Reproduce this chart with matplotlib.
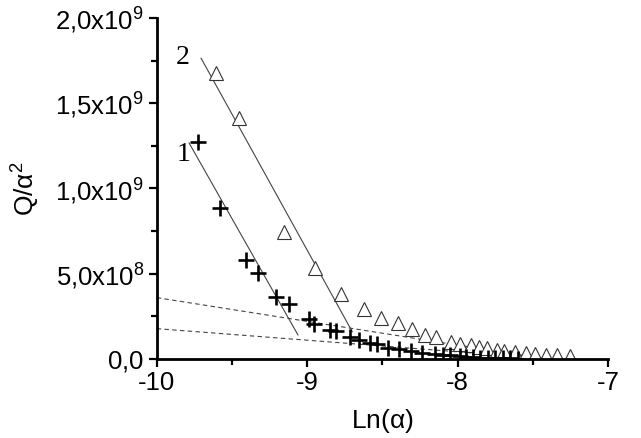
import numpy as np
import matplotlib
matplotlib.use('Agg')
import matplotlib.pyplot as plt
from matplotlib.ticker import FixedLocator, FixedFormatter

plt.rcParams['font.family'] = ['Liberation Sans', 'DejaVu Sans']
plt.rcParams['mathtext.fontset'] = 'custom'
plt.rcParams['mathtext.rm'] = 'Liberation Sans'
plt.rcParams['mathtext.it'] = 'Liberation Sans:italic'

# Série 1 (croix)
x1 = [-9.726, -9.579, -9.407, -9.327, -9.205, -9.118, -8.990, -8.955, -8.850, -8.806,
      -8.718, -8.658, -8.585, -8.534, -8.463, -8.390, -8.308, -8.235, -8.150, -8.100,
      -8.053, -7.987, -7.944, -7.900, -7.850, -7.800, -7.750, -7.700, -7.650, -7.600]
y1 = [1.273e9, 0.886e9, 0.579e9, 0.504e9, 0.365e9, 0.321e9, 0.236e9, 0.207e9, 0.168e9, 0.164e9,
      0.131e9, 0.111e9, 0.096e9, 0.086e9, 0.066e9, 0.057e9, 0.047e9, 0.037e9, 0.027e9, 0.025e9,
      0.023e9, 0.018e9, 0.012e9, 0.010e9, 0.008e9, 0.006e9, 0.005e9, 0.004e9, 0.003e9, 0.002e9]

# Série 2 (triangles)
x2 = [-9.608, -9.453, -9.154, -8.950, -8.773, -8.625, -8.512, -8.397, -8.304, -8.215,
      -8.146, -8.042, -7.982, -7.909, -7.860, -7.805, -7.739, -7.688, -7.615, -7.544,
      -7.482, -7.415, -7.340, -7.251]
y2 = [1.677e9, 1.415e9, 0.745e9, 0.536e9, 0.379e9, 0.291e9, 0.242e9, 0.209e9, 0.174e9, 0.141e9,
      0.129e9, 0.102e9, 0.090e9, 0.082e9, 0.070e9, 0.063e9, 0.051e9, 0.047e9, 0.043e9, 0.037e9,
      0.031e9, 0.023e9, 0.023e9, 0.018e9]

# Droites d'ajustement (extrémités)
fit1_x = [-9.785, -9.061]
fit1_y = [1.267e9, 0.141e9]
fit2_x = [-9.705, -8.700]
fit2_y = [1.764e9, 0.160e9]

# Tangentes en pointillés
dash_hi_x = [-10.0, -7.45]
dash_hi_y = [0.360e9, 0.005e9]
dash_lo_x = [-10.0, -7.45]
dash_lo_y = [0.178e9, 0.005e9]

yticks = [0, 5e8, 1e9, 1.5e9, 2e9]
ytick_labels = [r'$\mathregular{0{,}0}$', r'$\mathregular{5{,}0x10^{8}}$', r'$\mathregular{1{,}0x10^{9}}$',
                r'$\mathregular{1{,}5x10^{9}}$', r'$\mathregular{2{,}0x10^{9}}$']
xticks = [-10, -9, -8, -7]
xtick_labels = ['-10', '-9', '-8', '-7']

fig = plt.figure(figsize=(6.41, 4.38), dpi=100)
ax = fig.add_axes([0.2445, 0.1804, 0.704, 0.7785])

ax.plot(dash_hi_x, dash_hi_y, color='#444444', lw=0.8, dashes=(4, 3))
ax.plot(dash_lo_x, dash_lo_y, color='#444444', lw=0.8, dashes=(4, 3))
ax.plot(fit1_x, fit1_y, color='#444444', lw=0.8)
ax.plot(fit2_x, fit2_y, color='#444444', lw=0.8)

ax.plot(x2, y2, linestyle='none', marker='^', markersize=10.5, markerfacecolor='white',
        markeredgecolor='#333333', markeredgewidth=0.8)
ax.plot(x1, y1, linestyle='none', marker='+', markersize=11, color='black', markeredgewidth=1.9)

ax.text(-9.82, 1.20e9, '1', family=['Liberation Serif'], fontsize=20, ha='center', va='center')
ax.text(-9.825, 1.77e9, '2', family=['Liberation Serif'], fontsize=20, ha='center', va='center')

ax.set_xlim(-10, -7)
ax.set_ylim(0, 2e9)

ax.xaxis.set_major_locator(FixedLocator(xticks))
ax.xaxis.set_major_formatter(FixedFormatter(xtick_labels))
ax.xaxis.set_minor_locator(FixedLocator([-9.5, -8.5, -7.5]))
ax.yaxis.set_major_locator(FixedLocator(yticks))
ax.yaxis.set_major_formatter(FixedFormatter(ytick_labels))
ax.yaxis.set_minor_locator(FixedLocator([2.5e8, 7.5e8, 1.25e9, 1.75e9]))

ax.tick_params(which='major', direction='out', length=6, width=1.6, labelsize=18.5, pad=3)
ax.tick_params(which='minor', direction='out', length=4, width=1.6)

for side in ['top', 'right']:
    ax.spines[side].set_visible(False)
for side in ['left', 'bottom']:
    ax.spines[side].set_linewidth(2)

ax.set_xlabel(r'Ln($\mathregular{\alpha}$)', fontsize=19, labelpad=8)
ax.set_ylabel(r'Q/$\mathregular{\alpha^{2}}$', fontsize=19, labelpad=10)

fig.savefig('out.png', dpi=100)
